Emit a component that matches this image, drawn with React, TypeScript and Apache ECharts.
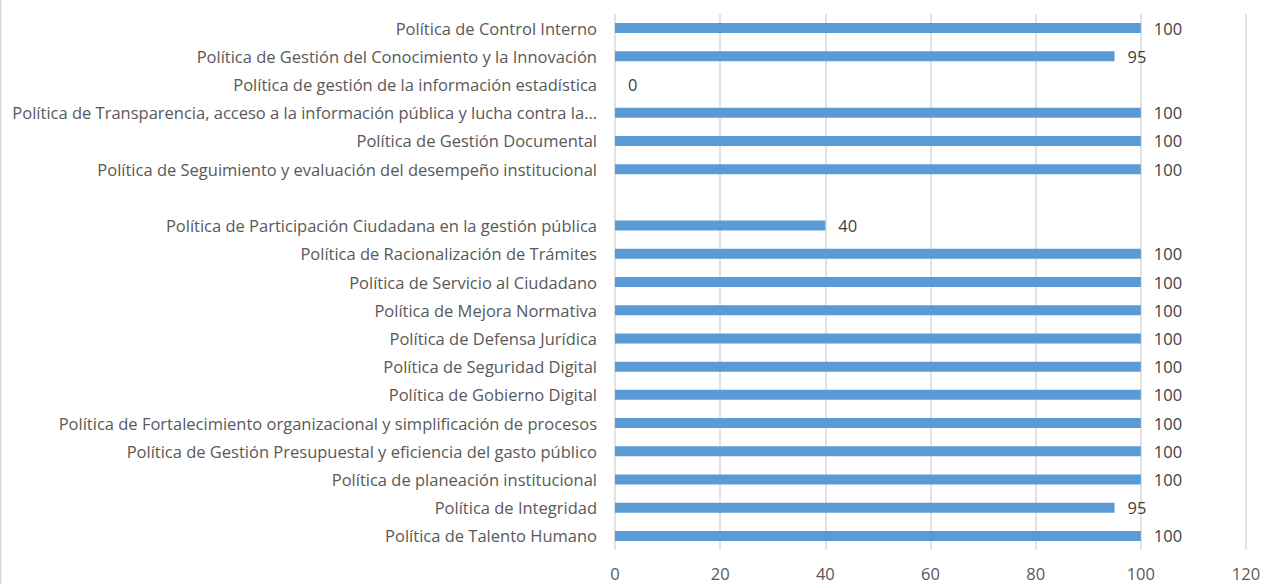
import React, { useEffect, useRef } from "react";
import * as echarts from "echarts";

const categories: string[] = [
  "Política de Control Interno",
  "Política de Gestión del Conocimiento y la Innovación",
  "Política de gestión de la información estadística",
  "Política de Transparencia, acceso a la información pública y lucha contra la…",
  "Política de Gestión Documental",
  "Política de Seguimiento y evaluación del desempeño institucional",
  "",
  "Política de Participación Ciudadana en la gestión pública",
  "Política de Racionalización de Trámites",
  "Política de Servicio al Ciudadano",
  "Política de Mejora Normativa",
  "Política de Defensa Jurídica",
  "Política de Seguridad Digital",
  "Política de Gobierno Digital",
  "Política de Fortalecimiento organizacional y simplificación de procesos",
  "Política de Gestión Presupuestal y eficiencia del gasto público",
  "Política de planeación institucional",
  "Política de Integridad",
  "Política de Talento Humano",
];

const values: (number | null)[] = [
  100, 95, 0, 100, 100, 100, null, 40, 100, 100, 100, 100, 100, 100, 100, 100, 100, 95, 100,
];

const xMin = 0;
const xMax = 120;
const xInterval = 20;

export default function App() {
  const ref = useRef<HTMLDivElement>(null);
  useEffect(() => {
    if (!ref.current) return;
    const chart = echarts.init(ref.current, undefined, { renderer: "svg" });
    const font = "'Open Sans', 'Noto Sans', sans-serif";
    chart.setOption({
      animation: false,
      backgroundColor: "#ffffff",
      textStyle: { fontFamily: font },
      grid: { left: 615, right: 20, top: 14, bottom: 34, containLabel: false },
      xAxis: {
        type: "value",
        min: xMin,
        max: xMax,
        interval: xInterval,
        axisLine: { show: false },
        axisTick: { show: false },
        splitLine: { show: true, lineStyle: { color: "#d9d9d9", width: 1.5 } },
        axisLabel: {
          color: "#595959",
          fontSize: 16.5,
          lineHeight: 14,
          margin: 16,
          fontFamily: font,
        },
      },
      yAxis: {
        type: "category",
        data: categories,
        inverse: true,
        axisLine: { show: false },
        axisTick: { show: false },
        axisLabel: { color: "#595959", fontSize: 16.5, margin: 18, fontFamily: font },
      },
      series: [
        {
          type: "bar",
          data: values,
          barWidth: 10,
          itemStyle: { color: "#5B9BD5" },
          label: {
            show: true,
            position: "right",
            distance: 13,
            color: "#404040",
            fontSize: 16.5,
            fontFamily: font,
          },
        },
      ],
      graphic: [
        {
          type: "line",
          shape: { x1: 0.75, y1: 0, x2: 0.75, y2: 584 },
          style: { stroke: "#d9d9d9", lineWidth: 1.5 },
        },
      ],
    });
    return () => chart.dispose();
  }, []);
  return (
    <div
      ref={ref}
      style={{ position: "fixed", left: 0, top: 0, width: 1266, height: 584 }}
    />
  );
}
